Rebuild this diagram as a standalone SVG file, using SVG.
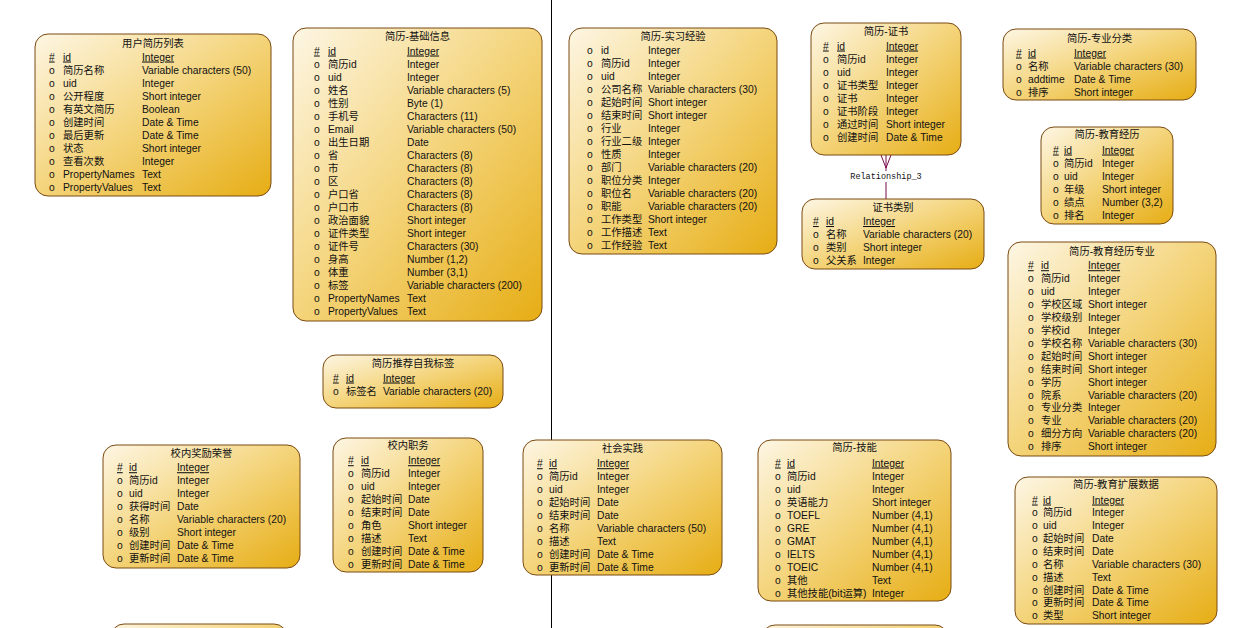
<svg xmlns="http://www.w3.org/2000/svg" width="1243" height="628" viewBox="0 0 1243 628">
<defs>
<linearGradient id="g" x1="0" y1="0" x2="1" y2="1">
<stop offset="0" stop-color="#fdf6e4"/>
<stop offset="0.5" stop-color="#f4d47a"/>
<stop offset="1" stop-color="#e6ad14"/>
</linearGradient>
<style>
.box{fill:url(#g);stroke:#7b4a12;stroke-width:1}
text{font-family:"Liberation Sans","Noto Sans CJK SC",sans-serif;font-size:10.3px;fill:#111}
.t{text-anchor:middle}
.u{text-decoration:underline}
.rel{font-family:"Liberation Mono",monospace;font-size:8.5px;text-anchor:middle}
.c{stroke:#7a0a4a;stroke-width:1;fill:none}
</style>
</defs>
<rect width="1243" height="628" fill="#fff"/>
<line x1="551.5" y1="0" x2="551.5" y2="628" stroke="#000" stroke-width="1"/>

<g id="connectors">
<path class="c" d="M881,155 L886,168 M886,155 L886,168 M891,155 L886,168 M886,168 L886,171 M886,182 L886,199"/>
<text class="rel" x="886" y="179">Relationship_3</text>
</g>

<g id="t-user-resume">
<rect class="box" x="35" y="34" width="236" height="162" rx="13"/>
<text class="t" x="153" y="46.5">用户简历列表</text>
<text class="u" x="49" y="60.5">#</text><text class="u" x="63" y="60.5">id</text><text class="u" x="142" y="60.5">Integer</text>
<text x="49" y="73.5">o</text><text x="63" y="73.5">简历名称</text><text x="142" y="73.5">Variable characters (50)</text>
<text x="49" y="86.5">o</text><text x="63" y="86.5">uid</text><text x="142" y="86.5">Integer</text>
<text x="49" y="99.5">o</text><text x="63" y="99.5">公开程度</text><text x="142" y="99.5">Short integer</text>
<text x="49" y="112.5">o</text><text x="63" y="112.5">有英文简历</text><text x="142" y="112.5">Boolean</text>
<text x="49" y="125.5">o</text><text x="63" y="125.5">创建时间</text><text x="142" y="125.5">Date &amp; Time</text>
<text x="49" y="138.5">o</text><text x="63" y="138.5">最后更新</text><text x="142" y="138.5">Date &amp; Time</text>
<text x="49" y="151.5">o</text><text x="63" y="151.5">状态</text><text x="142" y="151.5">Short integer</text>
<text x="49" y="164.5">o</text><text x="63" y="164.5">查看次数</text><text x="142" y="164.5">Integer</text>
<text x="49" y="177.5">o</text><text x="63" y="177.5">PropertyNames</text><text x="142" y="177.5">Text</text>
<text x="49" y="190.5">o</text><text x="63" y="190.5">PropertyValues</text><text x="142" y="190.5">Text</text>
</g>

<g id="t-basic-info">
<rect class="box" x="293" y="28" width="249" height="293" rx="13"/>
<text class="t" x="417.5" y="39.5">简历-基础信息</text>
<text class="u" x="314" y="54.5">#</text><text class="u" x="328" y="54.5">id</text><text class="u" x="407" y="54.5">Integer</text>
<text x="314" y="67.5">o</text><text x="328" y="67.5">简历id</text><text x="407" y="67.5">Integer</text>
<text x="314" y="80.5">o</text><text x="328" y="80.5">uid</text><text x="407" y="80.5">Integer</text>
<text x="314" y="93.5">o</text><text x="328" y="93.5">姓名</text><text x="407" y="93.5">Variable characters (5)</text>
<text x="314" y="106.5">o</text><text x="328" y="106.5">性别</text><text x="407" y="106.5">Byte (1)</text>
<text x="314" y="119.5">o</text><text x="328" y="119.5">手机号</text><text x="407" y="119.5">Characters (11)</text>
<text x="314" y="132.5">o</text><text x="328" y="132.5">Email</text><text x="407" y="132.5">Variable characters (50)</text>
<text x="314" y="145.5">o</text><text x="328" y="145.5">出生日期</text><text x="407" y="145.5">Date</text>
<text x="314" y="158.5">o</text><text x="328" y="158.5">省</text><text x="407" y="158.5">Characters (8)</text>
<text x="314" y="171.5">o</text><text x="328" y="171.5">市</text><text x="407" y="171.5">Characters (8)</text>
<text x="314" y="184.5">o</text><text x="328" y="184.5">区</text><text x="407" y="184.5">Characters (8)</text>
<text x="314" y="197.5">o</text><text x="328" y="197.5">户口省</text><text x="407" y="197.5">Characters (8)</text>
<text x="314" y="210.5">o</text><text x="328" y="210.5">户口市</text><text x="407" y="210.5">Characters (8)</text>
<text x="314" y="223.5">o</text><text x="328" y="223.5">政治面貌</text><text x="407" y="223.5">Short integer</text>
<text x="314" y="236.5">o</text><text x="328" y="236.5">证件类型</text><text x="407" y="236.5">Short integer</text>
<text x="314" y="249.5">o</text><text x="328" y="249.5">证件号</text><text x="407" y="249.5">Characters (30)</text>
<text x="314" y="262.5">o</text><text x="328" y="262.5">身高</text><text x="407" y="262.5">Number (1,2)</text>
<text x="314" y="275.5">o</text><text x="328" y="275.5">体重</text><text x="407" y="275.5">Number (3,1)</text>
<text x="314" y="288.5">o</text><text x="328" y="288.5">标签</text><text x="407" y="288.5">Variable characters (200)</text>
<text x="314" y="301.5">o</text><text x="328" y="301.5">PropertyNames</text><text x="407" y="301.5">Text</text>
<text x="314" y="314.5">o</text><text x="328" y="314.5">PropertyValues</text><text x="407" y="314.5">Text</text>
</g>

<g id="t-internship">
<rect class="box" x="569" y="28" width="208" height="226" rx="13"/>
<text class="t" x="673" y="39.5">简历-实习经验</text>
<text x="587" y="53.5">o</text><text x="601" y="53.5">id</text><text x="648" y="53.5">Integer</text>
<text x="587" y="66.5">o</text><text x="601" y="66.5">简历id</text><text x="648" y="66.5">Integer</text>
<text x="587" y="79.5">o</text><text x="601" y="79.5">uid</text><text x="648" y="79.5">Integer</text>
<text x="587" y="92.5">o</text><text x="601" y="92.5">公司名称</text><text x="648" y="92.5">Variable characters (30)</text>
<text x="587" y="105.5">o</text><text x="601" y="105.5">起始时间</text><text x="648" y="105.5">Short integer</text>
<text x="587" y="118.5">o</text><text x="601" y="118.5">结束时间</text><text x="648" y="118.5">Short integer</text>
<text x="587" y="131.5">o</text><text x="601" y="131.5">行业</text><text x="648" y="131.5">Integer</text>
<text x="587" y="144.5">o</text><text x="601" y="144.5">行业二级</text><text x="648" y="144.5">Integer</text>
<text x="587" y="157.5">o</text><text x="601" y="157.5">性质</text><text x="648" y="157.5">Integer</text>
<text x="587" y="170.5">o</text><text x="601" y="170.5">部门</text><text x="648" y="170.5">Variable characters (20)</text>
<text x="587" y="183.5">o</text><text x="601" y="183.5">职位分类</text><text x="648" y="183.5">Integer</text>
<text x="587" y="196.5">o</text><text x="601" y="196.5">职位名</text><text x="648" y="196.5">Variable characters (20)</text>
<text x="587" y="209.5">o</text><text x="601" y="209.5">职能</text><text x="648" y="209.5">Variable characters (20)</text>
<text x="587" y="222.5">o</text><text x="601" y="222.5">工作类型</text><text x="648" y="222.5">Short integer</text>
<text x="587" y="235.5">o</text><text x="601" y="235.5">工作描述</text><text x="648" y="235.5">Text</text>
<text x="587" y="248.5">o</text><text x="601" y="248.5">工作经验</text><text x="648" y="248.5">Text</text>
</g>

<g id="t-certificate">
<rect class="box" x="811" y="23" width="150" height="132" rx="13"/>
<text class="t" x="886" y="35">简历-证书</text>
<text class="u" x="823" y="49.5">#</text><text class="u" x="837" y="49.5">id</text><text class="u" x="886" y="49.5">Integer</text>
<text x="823" y="62.5">o</text><text x="837" y="62.5">简历id</text><text x="886" y="62.5">Integer</text>
<text x="823" y="75.5">o</text><text x="837" y="75.5">uid</text><text x="886" y="75.5">Integer</text>
<text x="823" y="88.5">o</text><text x="837" y="88.5">证书类型</text><text x="886" y="88.5">Integer</text>
<text x="823" y="101.5">o</text><text x="837" y="101.5">证书</text><text x="886" y="101.5">Integer</text>
<text x="823" y="114.5">o</text><text x="837" y="114.5">证书阶段</text><text x="886" y="114.5">Integer</text>
<text x="823" y="127.5">o</text><text x="837" y="127.5">通过时间</text><text x="886" y="127.5">Short integer</text>
<text x="823" y="140.5">o</text><text x="837" y="140.5">创建时间</text><text x="886" y="140.5">Date &amp; Time</text>
</g>

<g id="t-cert-category">
<rect class="box" x="802" y="199" width="182" height="70" rx="13"/>
<text class="t" x="893" y="210.5">证书类别</text>
<text class="u" x="813" y="225">#</text><text class="u" x="826" y="225">id</text><text class="u" x="863" y="225">Integer</text>
<text x="813" y="238">o</text><text x="826" y="238">名称</text><text x="863" y="238">Variable characters (20)</text>
<text x="813" y="251">o</text><text x="826" y="251">类别</text><text x="863" y="251">Short integer</text>
<text x="813" y="264">o</text><text x="826" y="264">父关系</text><text x="863" y="264">Integer</text>
</g>

<g id="t-major-category">
<rect class="box" x="1003" y="29" width="193" height="71" rx="13"/>
<text class="t" x="1099.5" y="41.5">简历-专业分类</text>
<text class="u" x="1016" y="56.5">#</text><text class="u" x="1028" y="56.5">id</text><text class="u" x="1074" y="56.5">Integer</text>
<text x="1016" y="69.5">o</text><text x="1028" y="69.5">名称</text><text x="1074" y="69.5">Variable characters (30)</text>
<text x="1016" y="82.5">o</text><text x="1028" y="82.5">addtime</text><text x="1074" y="82.5">Date &amp; Time</text>
<text x="1016" y="95.5">o</text><text x="1028" y="95.5">排序</text><text x="1074" y="95.5">Short integer</text>
</g>

<g id="t-education">
<rect class="box" x="1041" y="127" width="132" height="97" rx="13"/>
<text class="t" x="1107" y="137.5">简历-教育经历</text>
<text class="u" x="1053" y="153.5">#</text><text class="u" x="1064" y="153.5">id</text><text class="u" x="1102" y="153.5">Integer</text>
<text x="1053" y="166.5">o</text><text x="1064" y="166.5">简历id</text><text x="1102" y="166.5">Integer</text>
<text x="1053" y="179.5">o</text><text x="1064" y="179.5">uid</text><text x="1102" y="179.5">Integer</text>
<text x="1053" y="192.5">o</text><text x="1064" y="192.5">年级</text><text x="1102" y="192.5">Short integer</text>
<text x="1053" y="205.5">o</text><text x="1064" y="205.5">绩点</text><text x="1102" y="205.5">Number (3,2)</text>
<text x="1053" y="218.5">o</text><text x="1064" y="218.5">排名</text><text x="1102" y="218.5">Integer</text>
</g>

<g id="t-education-major">
<rect class="box" x="1008" y="242" width="208" height="214" rx="13"/>
<text class="t" x="1112" y="254.5">简历-教育经历专业</text>
<text class="u" x="1028" y="269.2">#</text><text class="u" x="1041" y="269.2">id</text><text class="u" x="1088" y="269.2">Integer</text>
<text x="1028" y="282.1">o</text><text x="1041" y="282.1">简历id</text><text x="1088" y="282.1">Integer</text>
<text x="1028" y="295.1">o</text><text x="1041" y="295.1">uid</text><text x="1088" y="295.1">Integer</text>
<text x="1028" y="308">o</text><text x="1041" y="308">学校区域</text><text x="1088" y="308">Short integer</text>
<text x="1028" y="320.9">o</text><text x="1041" y="320.9">学校级别</text><text x="1088" y="320.9">Integer</text>
<text x="1028" y="333.9">o</text><text x="1041" y="333.9">学校id</text><text x="1088" y="333.9">Integer</text>
<text x="1028" y="346.8">o</text><text x="1041" y="346.8">学校名称</text><text x="1088" y="346.8">Variable characters (30)</text>
<text x="1028" y="359.7">o</text><text x="1041" y="359.7">起始时间</text><text x="1088" y="359.7">Short integer</text>
<text x="1028" y="372.6">o</text><text x="1041" y="372.6">结束时间</text><text x="1088" y="372.6">Short integer</text>
<text x="1028" y="385.6">o</text><text x="1041" y="385.6">学历</text><text x="1088" y="385.6">Short integer</text>
<text x="1028" y="398.5">o</text><text x="1041" y="398.5">院系</text><text x="1088" y="398.5">Variable characters (20)</text>
<text x="1028" y="411.4">o</text><text x="1041" y="411.4">专业分类</text><text x="1088" y="411.4">Integer</text>
<text x="1028" y="424.4">o</text><text x="1041" y="424.4">专业</text><text x="1088" y="424.4">Variable characters (20)</text>
<text x="1028" y="437.3">o</text><text x="1041" y="437.3">细分方向</text><text x="1088" y="437.3">Variable characters (20)</text>
<text x="1028" y="450.2">o</text><text x="1041" y="450.2">排序</text><text x="1088" y="450.2">Short integer</text>
</g>

<g id="t-education-ext">
<rect class="box" x="1015" y="477" width="202" height="147" rx="13"/>
<text class="t" x="1116" y="488">简历-教育扩展数据</text>
<text class="u" x="1032" y="503.5">#</text><text class="u" x="1043" y="503.5">id</text><text class="u" x="1092" y="503.5">Integer</text>
<text x="1032" y="516.4">o</text><text x="1043" y="516.4">简历id</text><text x="1092" y="516.4">Integer</text>
<text x="1032" y="529.2">o</text><text x="1043" y="529.2">uid</text><text x="1092" y="529.2">Integer</text>
<text x="1032" y="542.1">o</text><text x="1043" y="542.1">起始时间</text><text x="1092" y="542.1">Date</text>
<text x="1032" y="554.9">o</text><text x="1043" y="554.9">结束时间</text><text x="1092" y="554.9">Date</text>
<text x="1032" y="567.8">o</text><text x="1043" y="567.8">名称</text><text x="1092" y="567.8">Variable characters (30)</text>
<text x="1032" y="580.7">o</text><text x="1043" y="580.7">描述</text><text x="1092" y="580.7">Text</text>
<text x="1032" y="593.5">o</text><text x="1043" y="593.5">创建时间</text><text x="1092" y="593.5">Date &amp; Time</text>
<text x="1032" y="606.4">o</text><text x="1043" y="606.4">更新时间</text><text x="1092" y="606.4">Date &amp; Time</text>
<text x="1032" y="619.2">o</text><text x="1043" y="619.2">类型</text><text x="1092" y="619.2">Short integer</text>
</g>

<g id="t-self-tag">
<rect class="box" x="323" y="355" width="180" height="53" rx="13"/>
<text class="t" x="413" y="366.5">简历推荐自我标签</text>
<text class="u" x="333" y="381.5">#</text><text class="u" x="346" y="381.5">id</text><text class="u" x="383" y="381.5">Integer</text>
<text x="333" y="394.5">o</text><text x="346" y="394.5">标签名</text><text x="383" y="394.5">Variable characters (20)</text>
</g>

<g id="t-campus-award">
<rect class="box" x="103" y="445" width="197" height="123" rx="13"/>
<text class="t" x="201.5" y="456.5">校内奖励荣誉</text>
<text class="u" x="117" y="471.2">#</text><text class="u" x="129" y="471.2">id</text><text class="u" x="177" y="471.2">Integer</text>
<text x="117" y="484.1">o</text><text x="129" y="484.1">简历id</text><text x="177" y="484.1">Integer</text>
<text x="117" y="497.1">o</text><text x="129" y="497.1">uid</text><text x="177" y="497.1">Integer</text>
<text x="117" y="510">o</text><text x="129" y="510">获得时间</text><text x="177" y="510">Date</text>
<text x="117" y="523">o</text><text x="129" y="523">名称</text><text x="177" y="523">Variable characters (20)</text>
<text x="117" y="535.9">o</text><text x="129" y="535.9">级别</text><text x="177" y="535.9">Short integer</text>
<text x="117" y="548.8">o</text><text x="129" y="548.8">创建时间</text><text x="177" y="548.8">Date &amp; Time</text>
<text x="117" y="561.8">o</text><text x="129" y="561.8">更新时间</text><text x="177" y="561.8">Date &amp; Time</text>
</g>

<g id="t-campus-post">
<rect class="box" x="333" y="438" width="150" height="134" rx="13"/>
<text class="t" x="408" y="449.2">校内职务</text>
<text class="u" x="348" y="464.2">#</text><text class="u" x="361" y="464.2">id</text><text class="u" x="408" y="464.2">Integer</text>
<text x="348" y="477.2">o</text><text x="361" y="477.2">简历id</text><text x="408" y="477.2">Integer</text>
<text x="348" y="490.1">o</text><text x="361" y="490.1">uid</text><text x="408" y="490.1">Integer</text>
<text x="348" y="503.1">o</text><text x="361" y="503.1">起始时间</text><text x="408" y="503.1">Date</text>
<text x="348" y="516">o</text><text x="361" y="516">结束时间</text><text x="408" y="516">Date</text>
<text x="348" y="529">o</text><text x="361" y="529">角色</text><text x="408" y="529">Short integer</text>
<text x="348" y="541.9">o</text><text x="361" y="541.9">描述</text><text x="408" y="541.9">Text</text>
<text x="348" y="554.9">o</text><text x="361" y="554.9">创建时间</text><text x="408" y="554.9">Date &amp; Time</text>
<text x="348" y="567.8">o</text><text x="361" y="567.8">更新时间</text><text x="408" y="567.8">Date &amp; Time</text>
</g>

<g id="t-social-practice">
<rect class="box" x="523" y="440" width="199" height="135" rx="13"/>
<text class="t" x="622.5" y="452.2">社会实践</text>
<text class="u" x="537" y="467.2">#</text><text class="u" x="549" y="467.2">id</text><text class="u" x="597" y="467.2">Integer</text>
<text x="537" y="480.2">o</text><text x="549" y="480.2">简历id</text><text x="597" y="480.2">Integer</text>
<text x="537" y="493.1">o</text><text x="549" y="493.1">uid</text><text x="597" y="493.1">Integer</text>
<text x="537" y="506.1">o</text><text x="549" y="506.1">起始时间</text><text x="597" y="506.1">Date</text>
<text x="537" y="519">o</text><text x="549" y="519">结束时间</text><text x="597" y="519">Date</text>
<text x="537" y="532">o</text><text x="549" y="532">名称</text><text x="597" y="532">Variable characters (50)</text>
<text x="537" y="544.9">o</text><text x="549" y="544.9">描述</text><text x="597" y="544.9">Text</text>
<text x="537" y="557.9">o</text><text x="549" y="557.9">创建时间</text><text x="597" y="557.9">Date &amp; Time</text>
<text x="537" y="570.8">o</text><text x="549" y="570.8">更新时间</text><text x="597" y="570.8">Date &amp; Time</text>
</g>

<g id="t-skills">
<rect class="box" x="758" y="440" width="193" height="161" rx="13"/>
<text class="t" x="854.5" y="450.8">简历-技能</text>
<text class="u" x="775" y="466.5">#</text><text class="u" x="787" y="466.5">id</text><text class="u" x="872" y="466.5">Integer</text>
<text x="775" y="479.5">o</text><text x="787" y="479.5">简历id</text><text x="872" y="479.5">Integer</text>
<text x="775" y="492.5">o</text><text x="787" y="492.5">uid</text><text x="872" y="492.5">Integer</text>
<text x="775" y="505.5">o</text><text x="787" y="505.5">英语能力</text><text x="872" y="505.5">Short integer</text>
<text x="775" y="518.5">o</text><text x="787" y="518.5">TOEFL</text><text x="872" y="518.5">Number (4,1)</text>
<text x="775" y="531.5">o</text><text x="787" y="531.5">GRE</text><text x="872" y="531.5">Number (4,1)</text>
<text x="775" y="544.5">o</text><text x="787" y="544.5">GMAT</text><text x="872" y="544.5">Number (4,1)</text>
<text x="775" y="557.5">o</text><text x="787" y="557.5">IELTS</text><text x="872" y="557.5">Number (4,1)</text>
<text x="775" y="570.5">o</text><text x="787" y="570.5">TOEIC</text><text x="872" y="570.5">Number (4,1)</text>
<text x="775" y="583.5">o</text><text x="787" y="583.5">其他</text><text x="872" y="583.5">Text</text>
<text x="775" y="596.5">o</text><text x="787" y="596.5">其他技能(bit运算)</text><text x="872" y="596.5">Integer</text>
</g>

<g id="t-partial-left">
<rect class="box" x="111" y="624" width="176" height="40" rx="13"/>
</g>
<g id="t-partial-mid">
<rect class="box" x="762" y="625" width="186" height="40" rx="13"/>
</g>
</svg>
